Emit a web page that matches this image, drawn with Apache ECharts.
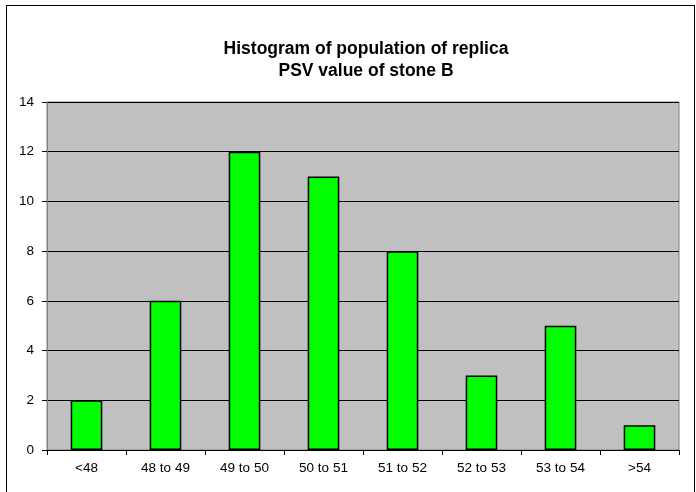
<!DOCTYPE html>
<html>
<head>
<meta charset="utf-8">
<script src="https://cdn.jsdelivr.net/npm/echarts@6/dist/echarts.min.js"></script>
<style>
  html, body { margin: 0; padding: 0; background: #fff; }
  #frame { position: absolute; left: 6px; top: 5px; width: 689px; height: 500px; border: 1px solid #000; box-sizing: border-box; }
  #main { width: 696px; height: 492px; }
</style>
</head>
<body>
<div id="frame"></div>
<div id="main"></div>
<script>
// bins and counts
var categories = ['<48', '48 to 49', '49 to 50', '50 to 51', '51 to 52', '52 to 53', '53 to 54', '>54'];
var counts = [2, 6, 12, 11, 8, 3, 5, 1];

var myChart = echarts.init(document.getElementById('main'));

var option = {
  animation: false,
  title: {
    text: 'Histogram of population of replica\nPSV value of stone B',
    left: 361,
    textAlign: 'center',
    top: 33,
    textStyle: {
      fontFamily: '"Liberation Sans", Arial, sans-serif',
      fontWeight: 'bold',
      fontSize: 17.5,
      lineHeight: 22,
      color: '#000'
    }
  },
  grid: {
    left: 47,
    right: 17,
    top: 102,
    bottom: 42,
    show: true,
    backgroundColor: '#C0C0C0',
    borderColor: '#808080',
    borderWidth: 1
  },
  xAxis: {
    type: 'category',
    data: categories,
    axisLine: { lineStyle: { color: '#000', width: 1 } },
    axisTick: { show: true, alignWithLabel: false, length: 5, lineStyle: { color: '#000' } },
    axisLabel: {
      color: '#000',
      fontFamily: '"Liberation Sans", Arial, sans-serif',
      fontSize: 13.5,
      margin: 11,
      interval: 0
    }
  },
  yAxis: {
    type: 'value',
    min: 0,
    max: 14,
    interval: 2,
    axisLine: { show: true, lineStyle: { color: '#808080' } },
    axisTick: { show: true, length: 5, lineStyle: { color: '#000' } },
    axisLabel: {
      color: '#000',
      fontFamily: '"Liberation Sans", Arial, sans-serif',
      fontSize: 13.5,
      margin: 13
    },
    splitLine: { show: true, lineStyle: { color: '#000', width: 1 } }
  },
  series: [{
    type: 'bar',
    data: counts,
    barCategoryGap: '60%',
    itemStyle: {
      color: '#00FF00',
      borderColor: '#000',
      borderWidth: 1.5
    }
  }]
};

myChart.setOption(option);
</script>
</body>
</html>
